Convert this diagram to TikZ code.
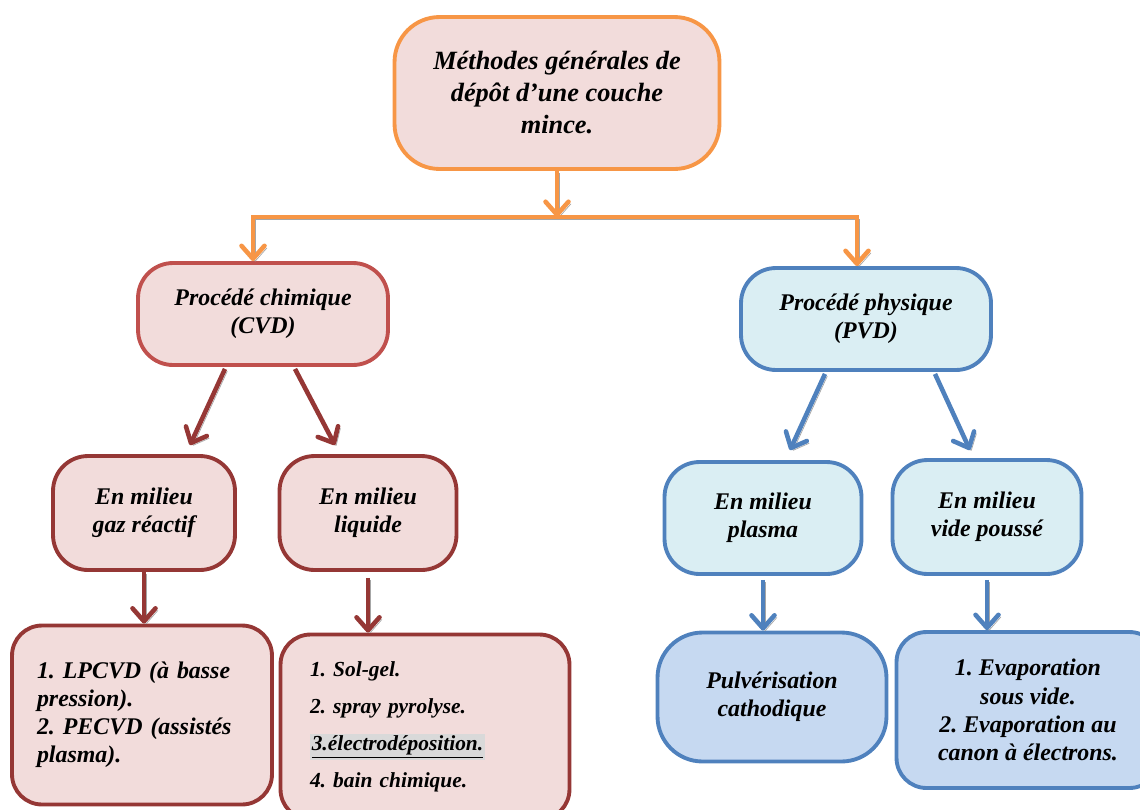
\documentclass[tikz,border=0pt]{standalone}
\usepackage{fontspec}
\setmainfont{Liberation Serif}
\usetikzlibrary{arrows.meta,calc}

\definecolor{orangeline}{HTML}{F79646}
\definecolor{pinkfill}{HTML}{F2DCDB}
\definecolor{redline}{HTML}{C0504D}
\definecolor{darkred}{HTML}{953735}
\definecolor{blueline}{HTML}{4F81BD}
\definecolor{cyanfill}{HTML}{DAEEF3}
\definecolor{bluefill}{HTML}{C6D9F1}
\definecolor{hilite}{HTML}{D9D9D9}

\begin{document}
\frenchspacing
\begin{tikzpicture}[
    x = 0.02cm, y = -0.02cm, % one unit = one pixel of the layout
    > = {Straight Barb[length=0.26cm,width=0.46cm,round]}, % arrow head style
    arr/.style = {->, line width=2.6pt,
        preaction={draw=gray!70, transform canvas={shift={(1.3pt,-1.3pt)}}}},
    every node/.style = {font=\fontsize{13.6}{16}\selectfont\bfseries\itshape, align=center}
    ]

    \tikzset{box/.style={
    draw,
    line width = 2.2pt,
    rounded corners = 0.7cm,
    inner sep = 0pt
    }}

    \useasboundingbox (0,0) rectangle (1140,809);

    % top level
    \node[box, draw=orangeline, fill=pinkfill, rounded corners=0.9cm,
        minimum width=6.5cm, minimum height=3.04cm,
        font=\fontsize{15}{18.2}\selectfont\bfseries\itshape] (top) at (557,93)
        {Méthodes générales de\\dépôt d’une couche\\mince.};

    % processes
    \node[box, draw=redline, fill=pinkfill, minimum width=5cm, minimum height=2.04cm]
        (cvd) at (263,314) {Procédé chimique\\(CVD)};
    \node[box, draw=blueline, fill=cyanfill, minimum width=5cm, minimum height=2.04cm]
        (pvd) at (866,319) {Procédé physique\\(PVD)};

    % media
    \node[box, draw=darkred, fill=pinkfill, minimum width=3.64cm, minimum height=2.28cm]
        (gaz) at (144,513) {En milieu\\gaz réactif};
    \node[box, draw=darkred, fill=pinkfill, minimum width=3.54cm, minimum height=2.28cm]
        (liq) at (368,513) {En milieu\\liquide};
    \node[box, draw=blueline, fill=cyanfill, minimum width=3.94cm, minimum height=2.24cm]
        (plasma) at (763,518) {En milieu\\plasma};
    \node[box, draw=blueline, fill=cyanfill, minimum width=3.78cm, minimum height=2.28cm]
        (vide) at (987,517) {En milieu\\vide poussé};

    % methods
    \node[box, draw=darkred, fill=pinkfill, rounded corners=0.6cm,
        minimum width=5.2cm, minimum height=3.58cm, text width=4.2cm, align=left]
        (lpcvd) at (142,715)
        {1. LPCVD (à basse\\pression).\\2. PECVD (assistés\\plasma).};
    \node[box, draw=darkred, fill=pinkfill, rounded corners=0.6cm,
        minimum width=5.78cm, minimum height=3.7cm, text width=4.6cm, align=left,
        font=\fontsize{12.2}{15}\selectfont\bfseries\itshape]
        (solgel) at (425,727)
        {1. Sol-gel.\\[6pt]2. spray pyrolyse.\\[6pt]%
        {\setlength{\fboxsep}{1pt}\colorbox{hilite}{\underline{3.électrodéposition.}}}\\[6pt]%
        4. bain chimique.};
    \node[box, draw=blueline, fill=bluefill, rounded corners=0.9cm,
        minimum width=4.58cm, minimum height=2.58cm]
        (pulv) at (772,697) {Pulvérisation\\cathodique};
    \node[box, draw=blueline, fill=bluefill, rounded corners=0.6cm,
        minimum width=5.26cm, minimum height=3.12cm]
        (evap) at (1028,710)
        {1. Evaporation\\sous vide.\\2. Evaporation au\\canon à électrons.};

    % connectors
    \coordinate (bus) at (557,217);
    \coordinate (busL) at (253,217);
    \coordinate (busR) at (857,217);
    \draw[arr, orangeline] (top.south) -- (bus);
    \draw[arr, orangeline] (bus) -- (busL) -- (busL |- cvd.north);
    \draw[arr, orangeline] (bus) -- (busR) -- (busR |- pvd.north);

    \draw[arr, darkred] ($(cvd.south)+(-38,2)$) -- ($(gaz.north)+(46,-9)$);
    \draw[arr, darkred] ($(cvd.south)+(32,2)$) -- ($(liq.north)+(-33,-9)$);
    \draw[arr, blueline] ($(pvd.south)+(-41,2)$) -- ($(plasma.north)+(27,-10)$);
    \draw[arr, blueline] ($(pvd.south)+(69,2)$) -- ($(vide.north)+(-17,-8)$);

    \draw[arr, darkred] (gaz.south) -- (gaz.south |- lpcvd.north);
    \draw[arr, darkred] ($(liq.south)+(0,6)$) -- (liq.south |- solgel.north);
    \draw[arr, blueline] ($(plasma.south)+(0,4)$) -- (plasma.south |- pulv.north);
    \draw[arr, blueline] ($(vide.south)+(0,4)$) -- (vide.south |- evap.north);
\end{tikzpicture}
\end{document}
